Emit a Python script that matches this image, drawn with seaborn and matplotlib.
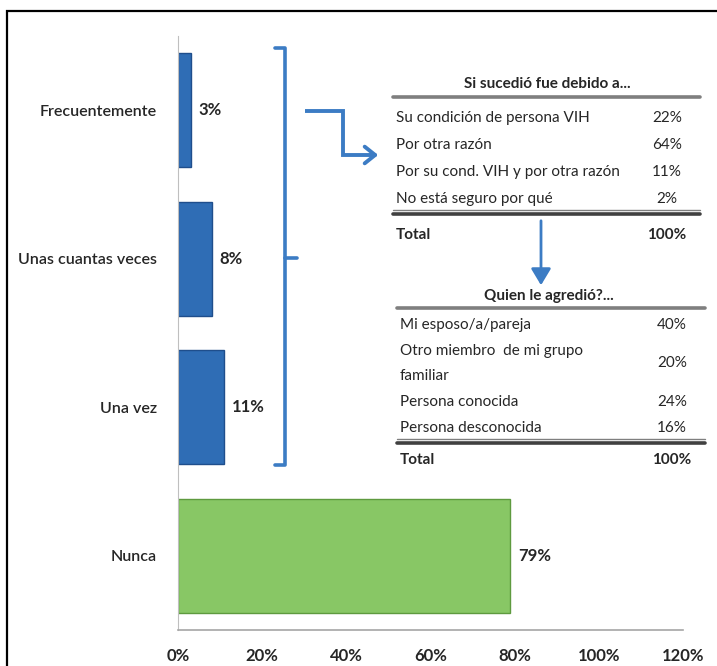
import matplotlib
matplotlib.use('Agg')
import matplotlib.pyplot as plt
import seaborn as sns
import pandas as pd
from matplotlib.lines import Line2D
from matplotlib.patches import Rectangle, FancyArrowPatch

# ---------------- data ----------------
categories = ['Frecuentemente', 'Unas cuantas veces', 'Una vez', 'Nunca']
values = [3, 8, 11, 79]
bar_colors = ['#2F6DB5', '#2F6DB5', '#2F6DB5', '#88C765']
edge_colors = ['#1F4E8C', '#1F4E8C', '#1F4E8C', '#5E9A3F']
xticks = [0, 20, 40, 60, 80, 100, 120]
xtick_labels = ['0%', '20%', '40%', '60%', '80%', '100%', '120%']

table1_title = 'Si sucedió fue debido a...'
table1_items = ['Su condición de persona VIH', 'Por otra razón',
                'Por su cond. VIH y por otra razón', 'No está seguro por qué']
table1_values = ['22%', '64%', '11%', '2%']
table1_total = ['Total', '100%']

table2_title = 'Quien le agredió?...'
table2_items = ['Mi esposo/a/pareja', 'Otro miembro  de mi grupo\nfamiliar',
                'Persona conocida', 'Persona desconocida']
table2_values = ['40%', '20%', '24%', '16%']
table2_total = ['Total', '100%']

# ---------------- style ----------------
sns.set_style('white')
FONT = ['Lato', 'DejaVu Sans']
plt.rcParams['font.family'] = FONT
TXT = '#262626'
BLUE = '#3C7CC4'

W, H = 717, 666
fig = plt.figure(figsize=(W / 100, H / 100), dpi=100)


def P(x, y):
    return (x / W, 1 - y / H)


ax = fig.add_axes([178 / W, 1 - 630 / H, (683 - 178) / W, (630 - 36) / H])
df = pd.DataFrame({'cat': categories, 'val': values})
sns.barplot(data=df, y='cat', x='val', hue='cat', palette=bar_colors,
            orient='h', width=0.77, legend=False, ax=ax, saturation=1)
for p, ec in zip(ax.patches, edge_colors):
    p.set_edgecolor(ec)
    p.set_linewidth(1.0)

ax.set_xlim(0, 120)
ax.set_ylim(3.5, -0.5)
ax.set_xticks(xticks)
ax.set_xticklabels(xtick_labels, fontsize=12, fontweight='bold', color=TXT)
ax.set_yticks(range(len(categories)))
ax.set_yticklabels(categories, fontsize=11.5, color=TXT, fontweight='semibold')
ax.set_yticks([-0.5, 0.5, 1.5, 2.5, 3.5], minor=True)
ax.tick_params(axis='y', which='major', length=0, pad=15)
ax.tick_params(axis='y', which='minor', length=5, color='#BFBFBF', direction='out')
ax.tick_params(axis='x', which='major', length=5, color='#A6A6A6', direction='out', pad=8)
ax.set_xlabel('')
ax.set_ylabel('')
for s in ['top', 'right']:
    ax.spines[s].set_visible(False)
ax.spines['left'].set_color('#BFBFBF')
ax.spines['bottom'].set_color('#A6A6A6')
ax.spines['bottom'].set_linewidth(1.2)

for i, v in enumerate(values):
    ax.text(v + 1.8, i, f'{v}%', va='center', ha='left', fontsize=12,
            fontweight='bold', color=TXT)

# ---------------- outer border ----------------
top = 1 - 11 / H
fig.add_artist(Rectangle((7 / W, -0.5), 2, top + 0.5, transform=fig.transFigure,
                         fill=False, edgecolor='black', lw=1.6))


# ---------------- bracket & arrows ----------------
def line(xs, ys, **kw):
    fig.add_artist(Line2D([x / W for x in xs], [1 - y / H for y in ys],
                          transform=fig.transFigure, **kw))


line([275, 285, 285, 275], [48, 48, 465, 465], color=BLUE, lw=2.6,
     solid_joinstyle='round', solid_capstyle='round')
line([285, 297], [258, 258], color=BLUE, lw=2.6, solid_capstyle='round')

line([305, 343, 343, 372], [111, 111, 155, 155], color=BLUE, lw=2.8,
     solid_joinstyle='miter', solid_capstyle='butt')
fig.add_artist(FancyArrowPatch(
    P(368, 155), P(381, 155), transform=fig.transFigure,
    arrowstyle='->,head_length=5,head_width=4', color=BLUE, lw=2.8,
    mutation_scale=1.5))

fig.add_artist(FancyArrowPatch(
    P(541, 218), P(541, 288), transform=fig.transFigure,
    arrowstyle='-|>,head_length=5,head_width=3', color=BLUE, lw=2.0,
    mutation_scale=2))

# ---------------- table 1 ----------------
fs = 11
fig.text(*P(547, 84), table1_title, ha='center', va='center', fontsize=fs,
         fontweight='bold', color=TXT)
line([393, 700], [97, 97], color='#7F7F7F', lw=2.6)
for y, item, val in zip([118, 145, 172, 199], table1_items, table1_values):
    fig.text(*P(396, y), item, ha='left', va='center', fontsize=fs, color=TXT)
    fig.text(*P(667, y), val, ha='center', va='center', fontsize=fs, color=TXT)
line([393, 700], [210, 210], color='#7F7F7F', lw=1.0)
line([393, 700], [214, 214], color='#404040', lw=2.6)
fig.text(*P(396, 235), table1_total[0], ha='left', va='center', fontsize=fs,
         fontweight='bold', color=TXT)
fig.text(*P(667, 235), table1_total[1], ha='center', va='center', fontsize=fs,
         fontweight='bold', color=TXT)

# ---------------- table 2 ----------------
fig.text(*P(549, 296), table2_title, ha='center', va='center', fontsize=fs,
         fontweight='bold', color=TXT)
line([397, 705], [308, 308], color='#7F7F7F', lw=2.6)
for y, item, val in zip([325, 363, 402, 428], table2_items, table2_values):
    fig.text(*P(400, y), item, ha='left', va='center', fontsize=fs, color=TXT,
             linespacing=2.0)
    fig.text(*P(672, y), val, ha='center', va='center', fontsize=fs, color=TXT)
line([397, 705], [439, 439], color='#7F7F7F', lw=1.0)
line([397, 705], [443, 443], color='#404040', lw=2.6)
fig.text(*P(400, 460), table2_total[0], ha='left', va='center', fontsize=fs,
         fontweight='bold', color=TXT)
fig.text(*P(672, 460), table2_total[1], ha='center', va='center', fontsize=fs,
         fontweight='bold', color=TXT)

fig.savefig('out.png', dpi=100)
